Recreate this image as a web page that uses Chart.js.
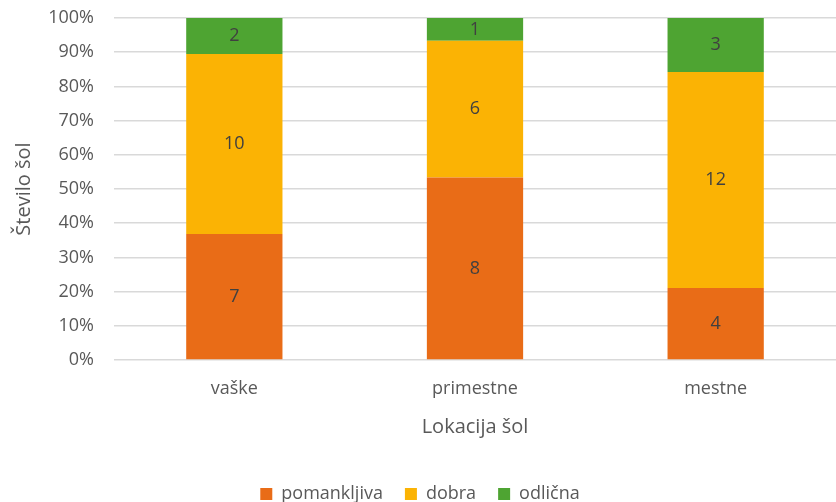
<!DOCTYPE html>
<html>
<head>
<meta charset="utf-8">
<script src="https://cdn.jsdelivr.net/npm/chart.js@4.4.1/dist/chart.umd.min.js"></script>
<style>
  html, body { margin: 0; padding: 0; background: #fff; }
  #wrap { width: 836px; height: 502px; }
</style>
</head>
<body>
<div id="wrap"><canvas id="chart"></canvas></div>
<script>
// categories and counts per rating
const categories = ['vaške', 'primestne', 'mestne'];
const seriesNames = ['pomankljiva', 'dobra', 'odlična'];
const pomankljiva = [7, 8, 4];
const dobra = [10, 6, 12];
const odlicna = [2, 1, 3];
const yTicks = [0, 10, 20, 30, 40, 50, 60, 70, 80, 90, 100];

const colors = ['#E96C17', '#FBB304', '#4EA432'];
const FONT = '"Open Sans", "DejaVu Sans", sans-serif';

// Totals per category, used to turn counts into shares of 100%
const totals = categories.map((_, i) => pomankljiva[i] + dobra[i] + odlicna[i]);
const counts = [pomankljiva, dobra, odlicna];

const datasets = counts.map((arr, k) => ({
  label: seriesNames[k],
  data: arr.map((v, i) => v / totals[i] * 100),
  counts: arr,
  backgroundColor: colors[k],
  borderWidth: 0,
  barPercentage: 0.4,
  categoryPercentage: 1.0
}));

// draws the count in the middle of each segment
const valueLabels = {
  id: 'valueLabels',
  afterDatasetsDraw(chart) {
    const ctx = chart.ctx;
    ctx.save();
    ctx.font = '18px ' + FONT;
    ctx.fillStyle = '#404040';
    ctx.textAlign = 'center';
    ctx.textBaseline = 'middle';
    chart.data.datasets.forEach((ds, di) => {
      chart.getDatasetMeta(di).data.forEach((bar, i) => {
        const p = bar.getProps(['x', 'y', 'base'], true);
        ctx.fillText(ds.counts[i], p.x, (p.y + p.base) / 2);
      });
    });
    ctx.restore();
  }
};

new Chart(document.getElementById('chart').getContext('2d'), {
  type: 'bar',
  data: { labels: categories, datasets: datasets },
  options: {
    responsive: true,
    maintainAspectRatio: false,
    animation: false,
    layout: { padding: { top: 18, right: -4, left: 0, bottom: -11 } },
    scales: {
      x: {
        stacked: true,
        grid: { display: false, drawTicks: false },
        border: { display: false },
        ticks: { color: '#595959', font: { family: FONT, size: 18 }, padding: 18 },
        title: {
          display: true,
          text: 'Lokacija šol',
          color: '#595959',
          font: { family: FONT, size: 20 },
          padding: { top: 0, bottom: 24 }
        },
        afterFit(scale) { scale.height = 103; }
      },
      y: {
        stacked: true,
        min: 0,
        max: 100,
        afterBuildTicks(scale) { scale.ticks = yTicks.map(v => ({ value: v })); },
        grid: { color: '#D9D9D9', lineWidth: 1.5, drawTicks: false },
        border: { display: false },
        ticks: {
          color: '#595959',
          font: { family: FONT, size: 18 },
          padding: 20,
          callback: v => v + '%'
        },
        title: {
          display: true,
          text: 'Število šol',
          color: '#595959',
          font: { family: FONT, size: 20 },
          padding: { top: 12, bottom: 0 }
        },
        afterFit(scale) {
          scale.width = 114;
          scale.paddingTop = 0;
          scale.paddingBottom = 0;
        }
      }
    },
    plugins: {
      legend: {
        position: 'bottom',
        labels: {
          color: '#595959',
          font: { family: FONT, size: 18 },
          boxWidth: 12,
          boxHeight: 12,
          padding: 22
        }
      },
      tooltip: { enabled: false }
    }
  },
  plugins: [valueLabels]
});
</script>
</body>
</html>
